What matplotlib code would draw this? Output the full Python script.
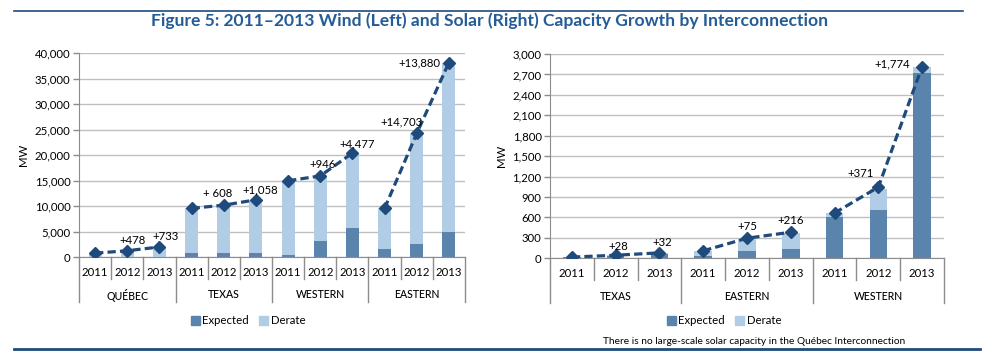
import matplotlib
matplotlib.use("Agg")
import matplotlib.pyplot as plt
from matplotlib.lines import Line2D
from matplotlib.patches import Patch
import matplotlib.transforms as mtransforms
import numpy as np

plt.rcParams['font.family'] = ['Lato', 'DejaVu Sans']

# ---------- data ----------
years = ['2011', '2012', '2013']

wind_groups = ['QUÉBEC', 'TEXAS', 'WESTERN', 'EASTERN']
wind_expected = [60, 60, 60, 700, 700, 700, 450, 3150, 5750, 1650, 2600, 4950]
wind_derate = [690, 1168, 1901, 8850, 9458, 10516, 14500, 12746, 14623, 7880, 21633, 33163]
wind_line = [750, 1228, 1961, 9550, 10158, 11216, 14950, 15896, 20373, 9530, 24233, 38113]
wind_labels = ['', '+478', '+733', '', '+ 608', '+1,058', '', '+946', '+4,477', '', '+14,703', '+13,880']

solar_groups = ['TEXAS', 'EASTERN', 'WESTERN']
solar_expected = [15, 40, 70, 35, 110, 136, 611, 709, 2726]
solar_derate = [0, 3, 10, 65, 190, 240, 49, 311, 88]
solar_line = [18, 45, 80, 110, 295, 383, 665, 1045, 2814]
solar_labels = ['', '+28', '+32', '', '+75', '+216', '', '+371', '+1,774']

# ---------- style ----------
DARK = '#5B84AD'
LIGHT = '#B1CDE5'
NAVY = '#1F4A7C'
TITLE = '#245C97'
GRID = '#BFBFBF'
AXIS = '#8C8C8C'

W, H = 986, 361
fig = plt.figure(figsize=(W / 100, H / 100), dpi=100)


def draw_panel(ax, groups, expected, derate, line, labels, ymax, ystep, label_offsets):
    n = len(expected)
    x = np.arange(n)
    ax.bar(x, expected, width=0.4, color=DARK, zorder=2)
    ax.bar(x, derate, width=0.4, bottom=expected, color=LIGHT, zorder=2)
    for g in range(len(groups)):
        sl = slice(3 * g, 3 * g + 3)
        ax.plot(x[sl], np.array(line)[sl], color=NAVY, lw=2.3, dashes=(2.6, 1.3),
                marker='D', ms=6.5, zorder=4, solid_capstyle='butt')
    for i, lab in enumerate(labels):
        if lab:
            dx, dy = label_offsets[i]
            ax.annotate(lab, (x[i], line[i]), xytext=(dx, dy), textcoords='offset pixels',
                        ha='center', va='center', fontsize=8.2, color='black', zorder=5)
    ax.set_xlim(-0.5, n - 0.5)
    ax.set_ylim(0, ymax)
    ax.set_yticks(np.arange(0, ymax + 1, ystep))
    ax.yaxis.set_major_formatter(matplotlib.ticker.FuncFormatter(lambda v, p: f'{int(v):,}'))
    ax.tick_params(axis='y', length=4, width=1, color=AXIS, labelsize=8.2, pad=2)
    ax.set_xticks([])
    ax.yaxis.grid(True, color=GRID, lw=1, zorder=0)
    ax.set_axisbelow(True)
    for s in ['top', 'right']:
        ax.spines[s].set_visible(False)
    ax.spines['left'].set_color(AXIS)
    ax.spines['bottom'].set_color(AXIS)
    ax.set_ylabel('MW', fontsize=8.2, labelpad=4)

    # two-tier category axis
    trans = mtransforms.blended_transform_factory(ax.transData, ax.transAxes)
    px = ax.get_position().height * H  # axes height in pixels
    def fy(p):
        return -p / px
    for i in range(n):
        ax.text(x[i], fy(15), years[i % 3], transform=trans, ha='center', va='center',
                fontsize=8.2)
    for b in range(1, n):
        if b % 3 == 0:
            continue
        ax.add_line(Line2D([b - 0.5, b - 0.5], [0, fy(22)], transform=trans,
                           color=AXIS, lw=1, clip_on=False))
    for g in range(len(groups) + 1):
        xb = 3 * g - 0.5
        ax.add_line(Line2D([xb, xb], [0, fy(45)], transform=trans,
                           color=AXIS, lw=1, clip_on=False))
    for g, name in enumerate(groups):
        ax.text(3 * g + 1, fy(38), name, transform=trans, ha='center', va='center',
                fontsize=7.6, fontweight='medium')


ax1 = fig.add_axes([79 / W, 1 - 257 / H, 386 / W, 204 / H])
wind_off = [(0, 0), (5, 10), (6, 10), (0, 0), (-6, 12), (4, 10), (0, 0), (2, 11),
            (5, 9), (0, 0), (-15, 11), (-29, 0)]
draw_panel(ax1, wind_groups, wind_expected, wind_derate, wind_line, wind_labels,
           40000, 5000, wind_off)

ax2 = fig.add_axes([550 / W, 1 - 258.3 / H, 394 / W, 204.3 / H])
solar_off = [(0, 0), (3, 9), (3, 10), (0, 0), (0, 12), (0, 12), (0, 0), (-18, 14),
             (-30, 3)]
draw_panel(ax2, solar_groups, solar_expected, solar_derate, solar_line, solar_labels,
           3000, 300, solar_off)

# legends
handles = [Patch(color=DARK, label='Expected'), Patch(color=LIGHT, label='Derate')]
for cx in (248 / W, 724 / W):
    fig.legend(handles=handles, loc='center', bbox_to_anchor=(cx, 1 - 321 / H), ncol=2,
               frameon=False, fontsize=8.2, handlelength=0.8, handleheight=0.8,
               handletextpad=0.2, columnspacing=0.9)

# title, note and rules
fig.text(490 / W, 1 - 21 / H,
         'Figure 5: 2011\u20132013 Wind (Left) and Solar (Right) Capacity Growth by Interconnection',
         ha='center', va='center', fontsize=12.6, fontweight='bold', color=TITLE)
fig.text(754 / W, 1 - 342 / H, 'There is no large-scale solar capacity in the Québec Interconnection',
         ha='center', va='center', fontsize=7.3)
fig.add_artist(Line2D([14 / W, 963 / W], [1 - 11 / H, 1 - 11 / H], color=NAVY, lw=1.2,
                      transform=fig.transFigure))
fig.add_artist(Line2D([14 / W, 980 / W], [1 - 349 / H, 1 - 349 / H], color=NAVY, lw=2,
                      transform=fig.transFigure))

fig.savefig('out.png', dpi=100)
